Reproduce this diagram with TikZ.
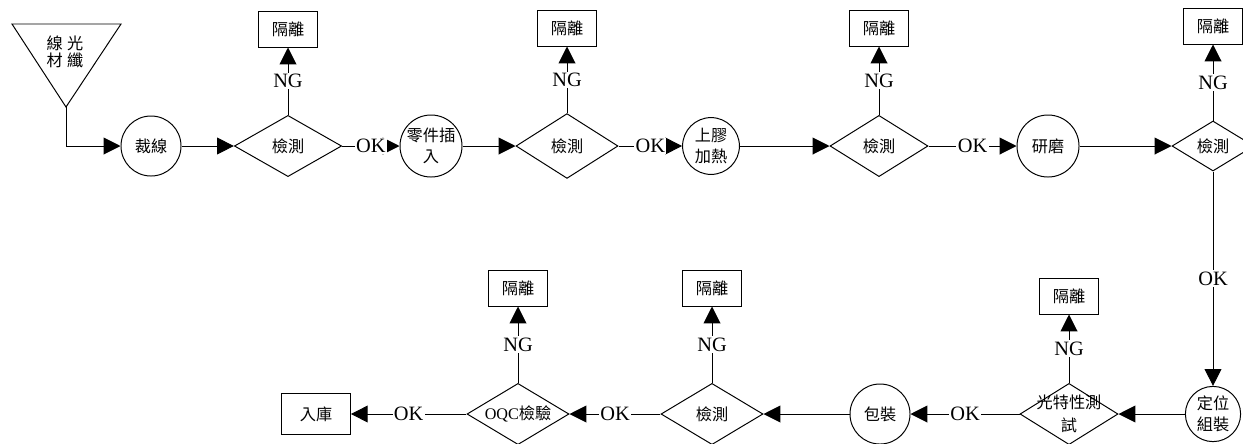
\documentclass[tikz,border=0pt]{standalone}
\usepackage{fontspec}
\setmainfont{Liberation Serif}
\newfontfamily\cjk{Noto Sans CJK TC}
\usetikzlibrary{shapes.geometric,arrows.meta}
\newcommand{\zhfont}{\cjk\fontsize{11.5}{14.5}\selectfont}

\begin{document}
\begin{tikzpicture}[
    x=0.025cm, y=-0.025cm, line width=0.7pt,
    proc/.style={circle, draw, minimum size=1.5cm, inner sep=0.5pt, align=center, font=\zhfont},
    chk/.style={diamond, draw, minimum width=2.55cm, minimum height=1.53cm, shape aspect=1.7,
                inner sep=0pt, align=center, font=\zhfont},
    box/.style={rectangle, draw, minimum width=1.47cm, minimum height=0.9cm, font=\zhfont},
    arr/.style={-{Triangle[length=0.42cm,width=0.42cm]}, line width=0.7pt},
    lbl/.style={fill=white, inner sep=1pt, font=\fontsize{14.5}{16}\selectfont}
]
    \clip (0,0) rectangle (1243,443);

    % raw material
    \draw (12,24) -- (121,24) -- (66,107) -- cycle;
    \coordinate (src) at (66,107);
    \node[font=\cjk\fontsize{11.5}{12}\selectfont, align=center] (srctxt) at (65,52) {線\hspace{3pt}光\\材\hspace{3pt}纖};

    % upper row
    \node[proc] (cut) at (151,146) {裁線};
    \node[chk, minimum width=2.68cm] (chkA) at (288,146) {檢測};
    \node[box] (ngA) at (288,29) {隔離};
    \node[proc, minimum size=1.55cm] (ins) at (431,146) {零件插\\入};
    \node[chk, minimum height=1.62cm] (chkB) at (567,146) {檢測};
    \node[box] (ngB) at (567,28) {隔離};
    \node[proc, minimum size=1.42cm] (glue) at (711,146) {上膠\\加熱};
    \node[chk, minimum width=2.45cm] (chkC) at (879,146) {檢測};
    \node[box] (ngC) at (879,28) {隔離};
    \node[proc, minimum size=1.55cm] (grind) at (1048,146) {研磨};
    \node[chk, minimum width=2.05cm, minimum height=1.25cm] (chkD) at (1213,146) {檢測};
    \node[box] (ngD) at (1213,26) {隔離};

    % lower row
    \node[proc, minimum size=1.38cm] (asm) at (1213,414) {定位\\組裝};
    \node[chk, minimum width=2.45cm, label={[font=\zhfont, align=center]center:光特性測\\[2pt]試}] (opt) at (1069,414) {};
    \node[box] (ngE) at (1069,296) {隔離};
    \node[proc] (pack) at (880,414) {包裝};
    \node[chk] (chkF) at (712,414) {檢測};
    \node[box] (ngF) at (712,288) {隔離};
    \node[chk] (oqc) at (518,414) {\textrm{OQC}檢驗};
    \node[box] (ngG) at (518,288) {隔離};
    \node[box, minimum width=1.72cm, minimum height=1.02cm] (store) at (316,414) {入庫};

    \draw[arr] (src) |- (cut);
    \draw[arr] (cut) -- (chkA);
    \draw[arr] (chkA) -- node[lbl] {NG} (ngA);
    \draw[arr] (chkA) -- node[lbl] {OK} (ins);
    \draw[arr] (ins) -- (chkB);
    \draw[arr] (chkB) -- node[lbl] {NG} (ngB);
    \draw[arr] (chkB) -- node[lbl] {OK} (glue);
    \draw[arr] (glue) -- (chkC);
    \draw[arr] (chkC) -- node[lbl] {NG} (ngC);
    \draw[arr] (chkC) -- node[lbl] {OK} (grind);
    \draw[arr] (grind) -- (chkD);
    \draw[arr] (chkD) -- node[lbl] {NG} (ngD);
    \draw[arr] (chkD) -- node[lbl] {OK} (asm);
    \draw[arr] (asm) -- (opt);
    \draw[arr] (opt) -- node[lbl] {NG} (ngE);
    \draw[arr] (opt) -- node[lbl] {OK} (pack);
    \draw[arr] (pack) -- (chkF);
    \draw[arr] (chkF) -- node[lbl] {NG} (ngF);
    \draw[arr] (chkF) -- node[lbl] {OK} (oqc);
    \draw[arr] (oqc) -- node[lbl] {NG} (ngG);
    \draw[arr] (oqc) -- node[lbl] {OK} (store);
\end{tikzpicture}
\end{document}
